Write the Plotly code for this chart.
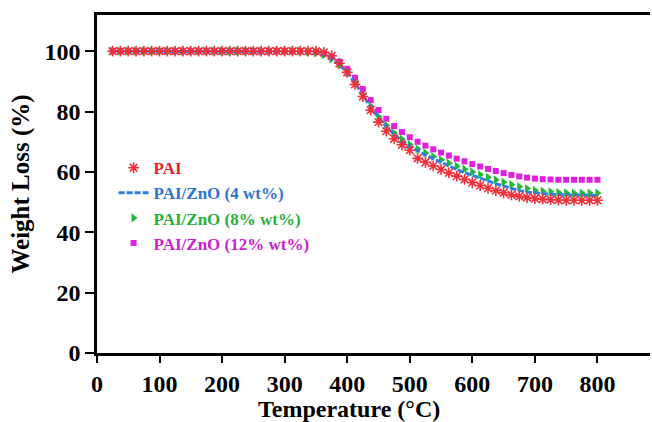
import plotly.graph_objects as go

temperature = [25, 37.5, 50, 62.5, 75, 87.5, 100, 112.5, 125, 137.5, 150, 162.5, 175, 187.5, 200,
               212.5, 225, 237.5, 250, 262.5, 275, 287.5, 300, 312.5, 325, 337.5, 350, 362.5, 375,
               387.5, 400, 412.5, 425, 437.5, 450, 462.5, 475, 487.5, 500, 512.5, 525, 537.5, 550,
               562.5, 575, 587.5, 600, 612.5, 625, 637.5, 650, 662.5, 675, 687.5, 700, 712.5, 725,
               737.5, 750, 762.5, 775, 787.5, 800]

plateau = [100] * 25  # 25 .. 325

pai = plateau + [100, 100, 99.6, 98.5, 96, 93, 89, 85, 80.5, 76.5, 73.5, 71, 69, 67.2, 64.5, 63.2,
                 62, 60.8, 59.7, 58.6, 57.5, 56.5, 55.5, 54.6, 53.8, 53.1, 52.4, 51.9, 51.5, 51.2,
                 51, 50.8, 50.7, 50.6, 50.6, 50.6, 50.6, 50.6]
zno4 = plateau + [99.8, 99.5, 98.8, 97.5, 95.5, 93, 89.5, 85.5, 81.5, 78, 75, 72.5, 70.3, 68.5, 67,
                  65.6, 64.4, 63.2, 61.8, 60.8, 59.8, 58.8, 57.9, 57, 56.1, 55.3, 54.5, 53.8, 53.3,
                  53, 52.8, 52.6, 52.5, 52.4, 52.3, 52.2, 52.2, 52.2]
zno8 = plateau + [99.8, 99.5, 98.8, 97.5, 95.5, 93, 89.6, 85.7, 81.8, 78.3, 75.4, 72.9, 70.8, 69.1,
                  67.6, 66.3, 65.1, 64, 62.9, 61.9, 60.9, 60, 59.1, 58.2, 57.4, 56.6, 55.8, 55.1,
                  54.5, 53.9, 53.6, 53.4, 53.2, 53.1, 53, 53, 53, 53]
zno12 = plateau + [99.9, 99.7, 99.2, 98.2, 96.5, 94.2, 91.2, 87.5, 83.8, 80.5, 77.6, 75.2, 73.2,
                   71.5, 70, 68.7, 67.5, 66.4, 65.4, 64.4, 63.5, 62.6, 61.8, 61, 60.3, 59.6, 59,
                   58.5, 58.1, 57.8, 57.6, 57.5, 57.4, 57.4, 57.4, 57.4, 57.4, 57.4]

x_ticks = [0, 100, 200, 300, 400, 500, 600, 700, 800]
y_ticks = [0, 20, 40, 60, 80, 100]

FONT = "Liberation Serif"
RED, BLUE, GREEN, MAG = "#f2303c", "#2f7fdc", "#22b83a", "#e21fe0"

fig = go.Figure()
fig.add_trace(go.Scatter(
    x=temperature, y=zno12, mode="markers", legendrank=4,
    name="<b><span style='color:#cc22cc'>PAI/ZnO (12% wt%)</span></b>",
    marker=dict(symbol="square", size=6, color=MAG)))
fig.add_trace(go.Scatter(
    x=temperature, y=zno8, mode="markers", legendrank=3,
    name="<b><span style='color:#2aae3c'>PAI/ZnO (8% wt%)</span></b>",
    marker=dict(symbol="triangle-right", size=8, color=GREEN)))
fig.add_trace(go.Scatter(
    x=temperature, y=zno4, mode="lines", legendrank=2,
    name="<b><span style='color:#2f72d0'>PAI/ZnO (4 wt%)</span></b>",
    line=dict(color=BLUE, width=3, dash="6px,2px")))
fig.add_trace(go.Scatter(
    x=temperature, y=pai, mode="markers", legendrank=1,
    name="<b><span style='color:#e8202c'>PAI</span></b>",
    marker=dict(symbol="asterisk-open", size=9, color=RED, line=dict(color=RED, width=1.6))))

fig.update_layout(
    width=652, height=422,
    margin=dict(l=97, r=2, t=15, b=69),
    paper_bgcolor="white", plot_bgcolor="white",
    font=dict(family=FONT, color="black"),
    showlegend=True,
    legend=dict(x=0.03, y=0.6, xanchor="left", yanchor="top",
                bgcolor="rgba(0,0,0,0)", font=dict(family=FONT, size=17, color="black"),
                tracegroupgap=0, itemwidth=30, traceorder="normal"),
    xaxis=dict(range=[0, 884], tickvals=x_ticks, ticktext=[str(v) for v in x_ticks],
               showgrid=False, zeroline=False, showline=True, linecolor="black", linewidth=2.5,
               mirror=True, ticks="outside", ticklen=7, tickwidth=2, tickcolor="black",
               tickfont=dict(family=FONT, size=24, color="black", weight="bold")),
    yaxis=dict(range=[0, 112], tickvals=y_ticks, ticktext=[str(v) for v in y_ticks],
               showgrid=False, zeroline=False, showline=True, linecolor="black", linewidth=2.5,
               ticks="outside", ticklen=9, tickwidth=2, tickcolor="black",
               tickfont=dict(family=FONT, size=24, color="black", weight="bold"),
               title=dict(text="Weight Loss (%)", standoff=8,
                          font=dict(family=FONT, size=25, color="black", weight="bold"))),
    annotations=[dict(text="Temperature (°C)", xref="paper", yref="paper",
                      x=0.456, y=-0.165, xanchor="center", yanchor="middle", showarrow=False,
                      font=dict(family=FONT, size=24, color="black", weight="bold"))],
)

fig.write_html("out.html")
